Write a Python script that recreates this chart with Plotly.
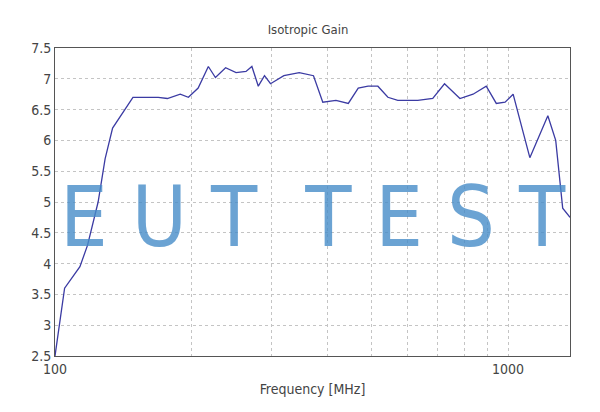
import plotly.graph_objects as go

freq = [100, 105, 113.5, 118, 124.5, 129, 134, 141, 148.6, 169, 177, 189, 197, 207, 218, 226, 238,
        251, 264, 272, 281, 290, 299, 320, 346, 372, 390, 417, 444, 467, 491, 516, 543, 571, 632,
        682, 724, 783, 837, 895, 942, 985, 1026, 1078, 1117, 1224, 1274, 1320, 1370]
gain = [2.5, 3.6, 3.95, 4.3, 5.0, 5.7, 6.2, 6.45, 6.7, 6.7, 6.68, 6.75, 6.7, 6.85, 7.2, 7.02, 7.18,
        7.1, 7.12, 7.2, 6.88, 7.05, 6.92, 7.05, 7.1, 7.05, 6.62, 6.65, 6.6, 6.85, 6.88, 6.88, 6.7,
        6.65, 6.65, 6.68, 6.92, 6.68, 6.75, 6.88, 6.6, 6.62, 6.75, 6.15, 5.72, 6.4, 6.0, 4.9, 4.75]

x_grid = [100, 200, 300, 400, 500, 600, 700, 800, 900, 1000]
x_text = ["100", "", "", "", "", "", "", "", "", "1000"]
y_ticks = [2.5, 3, 3.5, 4, 4.5, 5, 5.5, 6, 6.5, 7, 7.5]

fig = go.Figure(go.Scatter(x=freq, y=gain, mode="lines",
                           line=dict(color="#3b3ba3", width=1.3)))

fig.add_annotation(text="E U T  T E S T", xref="paper", yref="paper", x=0.5, y=0.45,
                   showarrow=False, font=dict(size=84, color="rgba(70,140,200,0.8)",
                                              family="DejaVu Sans Condensed, Liberation Sans Narrow"))

axis_common = dict(showline=True, mirror=True, linecolor="#555", linewidth=1,
                   gridcolor="#c4c4c4", griddash="dot", zeroline=False, automargin=False,
                   tickfont=dict(size=14, color="#444"), ticks="")
fig.update_layout(
    width=600, height=412, plot_bgcolor="white", paper_bgcolor="white",
    margin=dict(l=47, r=38, t=40, b=64), showlegend=False,
    font=dict(family="DejaVu Sans Condensed", color="#444"),
    title=dict(text="Isotropic Gain", x=0.5, xanchor="center", y=0.96, font=dict(size=13)),
    xaxis=dict(type="log", range=[2, 3.1367], tickvals=x_grid, ticktext=x_text,
               title=dict(text="Frequency [MHz]", font=dict(size=14), standoff=8), **axis_common),
    yaxis=dict(range=[2.5, 7.5], tickvals=y_ticks,
               ticktext=[f"{v:g}" for v in y_ticks], **axis_common),
)

fig.write_html("out.html")
